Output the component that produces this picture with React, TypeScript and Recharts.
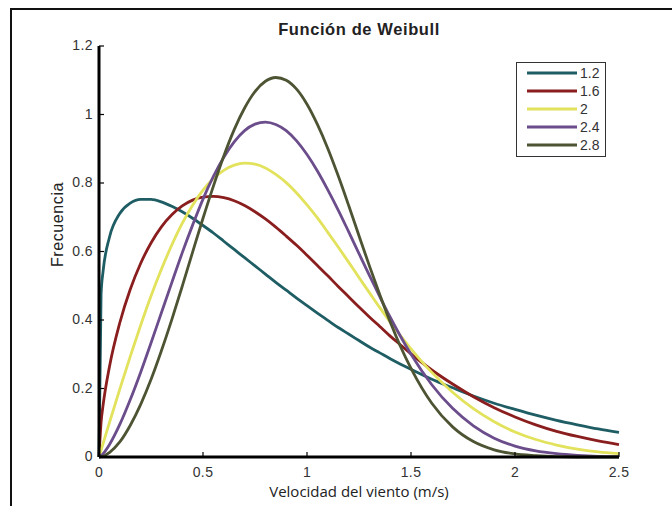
import React from 'react';
import { LineChart, Line, XAxis, YAxis, Legend } from 'recharts';

const speeds = [0, 0.01, 0.02, 0.05, 0.1, 0.15, 0.2, 0.25, 0.3, 0.35, 0.4, 0.45, 0.5, 0.55, 0.6, 0.65, 0.7, 0.75, 0.8, 0.85, 0.9, 0.95, 1, 1.05, 1.1, 1.15, 1.2, 1.25, 1.3, 1.35, 1.4, 1.45, 1.5, 1.6, 1.7, 1.8, 1.9, 2.0, 2.1, 2.2, 2.3, 2.4, 2.5];

const k12 = [0, 0.476, 0.544, 0.641, 0.711, 0.741, 0.752, 0.752, 0.745, 0.732, 0.716, 0.697, 0.676, 0.654, 0.630, 0.606, 0.582, 0.558, 0.534, 0.510, 0.487, 0.464, 0.442, 0.420, 0.399, 0.378, 0.359, 0.340, 0.321, 0.304, 0.287, 0.271, 0.256, 0.227, 0.202, 0.178, 0.157, 0.139, 0.122, 0.107, 0.094, 0.082, 0.072];
const k16 = [0, 0.101, 0.153, 0.263, 0.392, 0.489, 0.565, 0.625, 0.672, 0.707, 0.733, 0.750, 0.759, 0.761, 0.757, 0.748, 0.734, 0.716, 0.695, 0.671, 0.645, 0.618, 0.589, 0.559, 0.529, 0.498, 0.468, 0.438, 0.409, 0.381, 0.353, 0.327, 0.301, 0.254, 0.213, 0.176, 0.144, 0.117, 0.094, 0.075, 0.060, 0.047, 0.036];
const k20 = [0, 0.020, 0.040, 0.100, 0.198, 0.293, 0.384, 0.470, 0.548, 0.619, 0.682, 0.735, 0.779, 0.813, 0.837, 0.852, 0.858, 0.855, 0.844, 0.825, 0.801, 0.771, 0.736, 0.698, 0.656, 0.613, 0.569, 0.524, 0.480, 0.436, 0.394, 0.354, 0.316, 0.247, 0.189, 0.141, 0.103, 0.073, 0.051, 0.035, 0.023, 0.015, 0.010];
const k24 = [0, 0.004, 0.010, 0.036, 0.095, 0.167, 0.247, 0.333, 0.421, 0.509, 0.596, 0.677, 0.753, 0.819, 0.875, 0.920, 0.953, 0.972, 0.978, 0.971, 0.953, 0.923, 0.883, 0.835, 0.780, 0.721, 0.658, 0.594, 0.530, 0.468, 0.408, 0.352, 0.300, 0.211, 0.142, 0.091, 0.055, 0.032, 0.018, 0.010, 0.005, 0.002, 0.001];
const k28 = [0, 0.001, 0.002, 0.013, 0.044, 0.092, 0.153, 0.226, 0.310, 0.401, 0.498, 0.598, 0.697, 0.791, 0.879, 0.956, 1.019, 1.067, 1.097, 1.108, 1.100, 1.074, 1.030, 0.971, 0.901, 0.821, 0.735, 0.646, 0.558, 0.474, 0.394, 0.322, 0.259, 0.157, 0.088, 0.045, 0.021, 0.009, 0.004, 0.001, 0, 0, 0];

const seriesNames = ['1.2', '1.6', '2', '2.4', '2.8'];
const seriesValues = [k12, k16, k20, k24, k28];
const seriesColors = ['#1f5d64', '#8a1d1d', '#e2e25c', '#6c4d8c', '#4d5433'];

const xTicks = [0, 0.5, 1, 1.5, 2, 2.5];
const yTicks = [0, 0.2, 0.4, 0.6, 0.8, 1, 1.2];

const data = speeds.map((x, i) => {
  const row: Record<string, number> = { x };
  seriesNames.forEach((n, j) => {
    row['s' + j] = seriesValues[j][i];
  });
  return row;
});

const FONT = '"Liberation Sans", Arial, sans-serif';

const XTick = (props: any) => {
  const { x, y, payload } = props;
  const axisY = y - 8;
  return (
    <g>
      <line x1={x} y1={axisY} x2={x} y2={axisY - 5} stroke="#000" strokeWidth={1.2} />
      <text x={x} y={y + 12} textAnchor="middle" fontFamily={FONT} fontSize={14} letterSpacing={0.4} fill="#333">
        {payload.value}
      </text>
    </g>
  );
};

const YTick = (props: any) => {
  const { x, y, payload } = props;
  const axisX = x + 8;
  return (
    <g>
      <line x1={axisX} y1={y} x2={axisX + 5} y2={y} stroke="#000" strokeWidth={1.2} />
      <text x={x + 2} y={y + 4} textAnchor="end" fontFamily={FONT} fontSize={14} letterSpacing={0.4} fill="#333">
        {payload.value}
      </text>
    </g>
  );
};

const renderLegend = (props: any) => {
  const { payload } = props;
  return (
    <div
      style={{
        border: '1.5px solid #333',
        background: '#fff',
        width: 90,
        height: 95,
        boxSizing: 'border-box',
        paddingTop: 1,
      }}
    >
      {payload.map((entry: any, i: number) => (
        <div key={i} style={{ display: 'flex', alignItems: 'center', height: 18 }}>
          <svg width={63} height={10} style={{ display: 'block' }}>
            <line x1={10} y1={5} x2={60} y2={5} stroke={entry.color} strokeWidth={3} />
          </svg>
          <span style={{ fontFamily: FONT, fontSize: 14, color: '#333', lineHeight: '14px' }}>
            {entry.value}
          </span>
        </div>
      ))}
    </div>
  );
};

const YLabel = (props: any) => {
  const { viewBox } = props;
  const cx = viewBox.x + 4;
  const cy = viewBox.y + viewBox.height / 2 - 27;
  return (
    <text
      x={cx}
      y={cy}
      transform={`rotate(-90, ${cx}, ${cy})`}
      textAnchor="middle"
      fontFamily={FONT}
      fontSize={16}
      letterSpacing={0.6}
      fill="#222"
    >
      Frecuencia
    </text>
  );
};

const XLabel = (props: any) => {
  const { viewBox } = props;
  const cx = viewBox.x + viewBox.width / 2;
  const cy = 497;
  return (
    <text x={cx} y={cy} textAnchor="middle" fontFamily='"Open Sans", sans-serif' fontSize={15} fill="#222">
      Velocidad del viento (m/s)
    </text>
  );
};

export default function App() {
  return (
    <div style={{ position: 'absolute', left: 0, top: 0, width: 672, height: 506, background: '#fff', overflow: 'hidden' }}>
      <div style={{ position: 'absolute', left: 10, top: 8, width: 700, height: 600, borderTop: '2px solid #111', borderLeft: '2px solid #111' }} />
      <div
        style={{
          position: 'absolute',
          left: 99,
          width: 520,
          top: 20,
          textAlign: 'center',
          fontFamily: FONT,
          fontWeight: 'bold',
          fontSize: 16.5,
          letterSpacing: 0.6,
          color: '#222',
        }}
      >
        Función de Weibull
      </div>
      <LineChart width={672} height={506} data={data} margin={{ top: 46, right: 53, bottom: 19, left: 59 }}>
        <XAxis
          dataKey="x"
          type="number"
          domain={[0, 2.5]}
          ticks={xTicks}
          tick={<XTick />}
          tickLine={false}
          tickSize={4}
          tickMargin={4}
          height={30}
          stroke="#000"
          strokeWidth={3}
          axisLine={{ stroke: '#000', strokeWidth: 3 }}
          label={<XLabel />}
        />
        <YAxis
          type="number"
          domain={[0, 1.2]}
          ticks={yTicks}
          tick={<YTick />}
          tickLine={false}
          tickSize={4}
          tickMargin={4}
          width={40}
          stroke="#000"
          strokeWidth={3}
          axisLine={{ stroke: '#000', strokeWidth: 3 }}
          label={<YLabel />}
        />
        <Legend
          layout="vertical"
          align="center"
          verticalAlign="middle"
          content={renderLegend}
          wrapperStyle={{ position: 'absolute', left: 516, top: 62, width: 90, height: 95 }}
        />
        {seriesNames.map((n, j) => (
          <Line
            key={n}
            type="monotone"
            dataKey={'s' + j}
            name={n}
            stroke={seriesColors[j]}
            strokeWidth={2.8}
            dot={false}
            isAnimationActive={false}
          />
        ))}
      </LineChart>
    </div>
  );
}
